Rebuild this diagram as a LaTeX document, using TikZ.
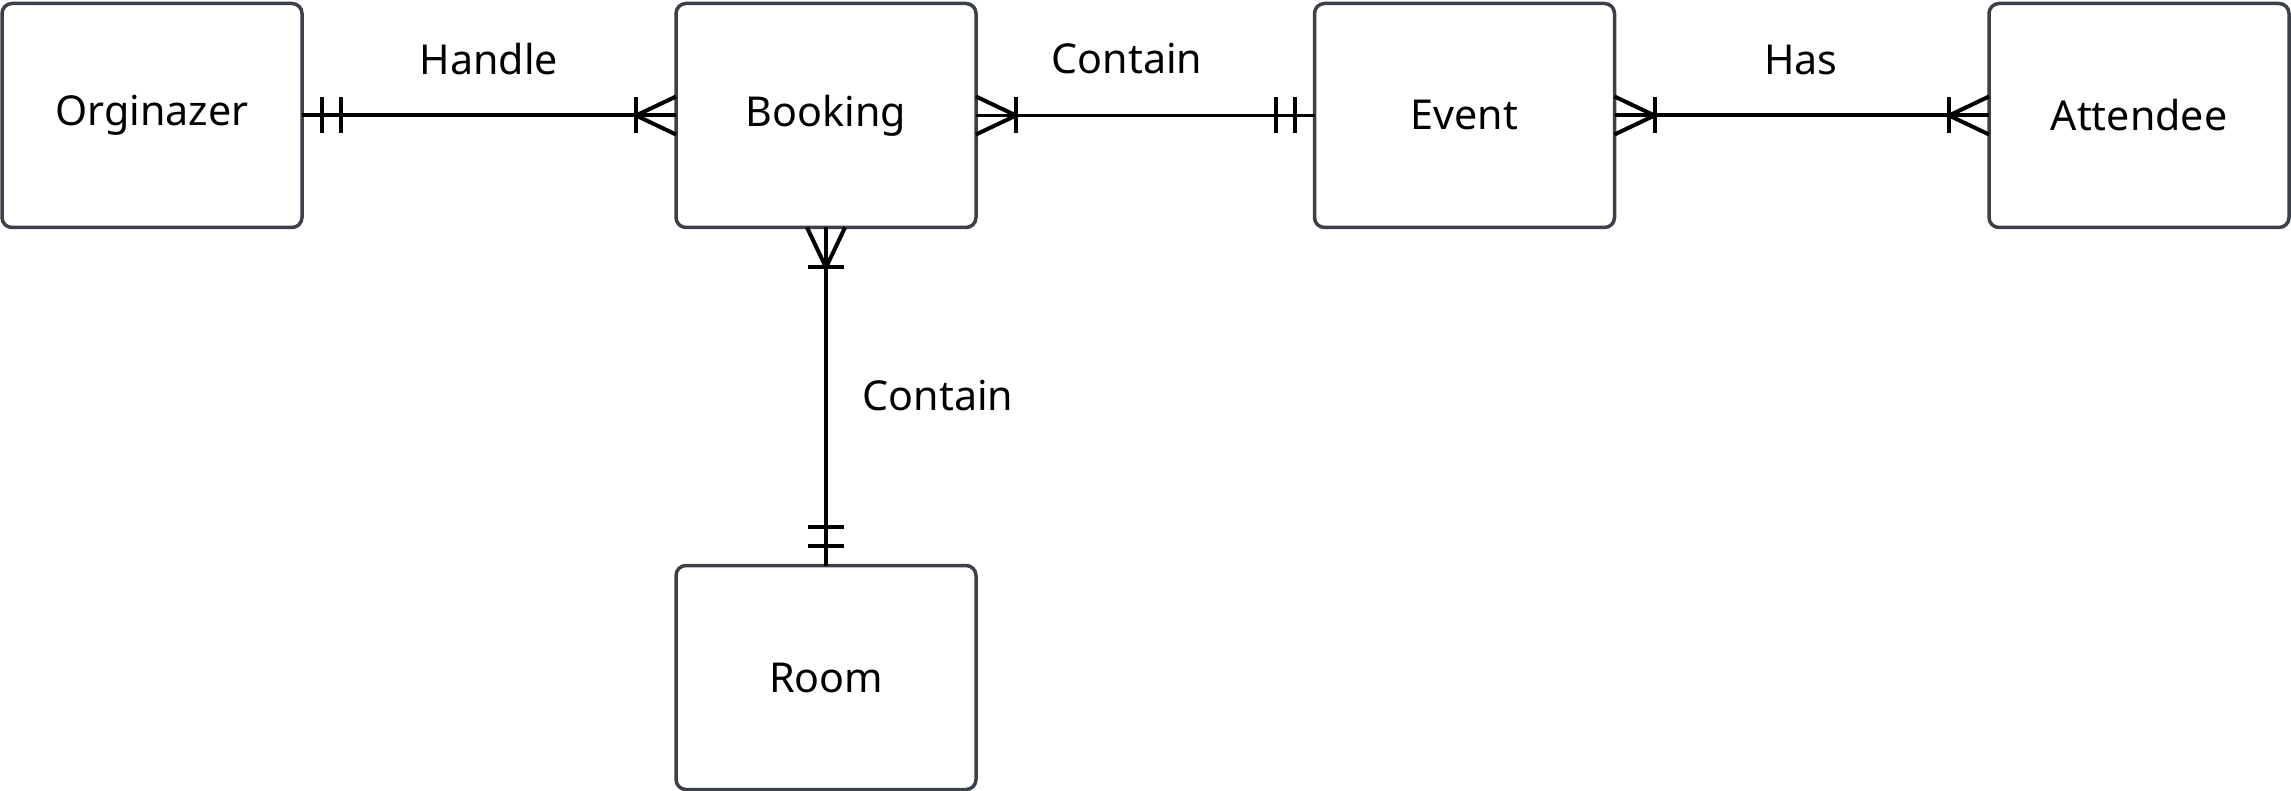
\documentclass[tikz,border=0pt]{standalone}
\usepackage{fontspec}
\setmainfont{Noto Sans}
\usetikzlibrary{calc}

\definecolor{boxgray}{RGB}{60,64,72}

\tikzset{
  entity/.style={draw=boxgray, line width=1.75pt, rounded corners=5pt, outer sep=0pt,
    minimum width=150pt, minimum height=112pt, fill=white, font=\fontsize{20.6}{24}\selectfont},
  rel/.style={line width=2pt, black},
  relthin/.style={line width=1.4pt, black},
  lbl/.style={font=\fontsize{20.6}{24}\selectfont},
  pics/onlyone/.style={code={
    \draw[rel] (20,-18) -- (20,18);
    \draw[rel] (39,-18) -- (39,18);
  }},
  pics/many/.style={code={
    \draw[rel] (0,19) -- (40,0) -- (0,-19);
    \draw[rel] (40,-18) -- (40,18);
  }},
}

\begin{document}
\begin{tikzpicture}[x=0.5pt, y=-0.5pt]
    \useasboundingbox (0,0) rectangle (2291,791);

    % Entities
    \node[entity] (org) at (152,115.5) {Orginazer};
    \node[entity] (book) at (826,115.5) {Booking};
    \node[entity] (event) at (1464.5,115.5) {Event};
    \node[entity] (att) at (2139,115.5) {Attendee};
    \node[entity] (room) at (826,677.5) {Room};

    % Relationships
    \draw[rel] (org.east) -- (book.west);
    \draw[relthin] (book.east) -- (event.west);
    \draw[rel] (event.east) -- (att.west);
    \draw[rel] (book.south) -- (room.north);

    % Cardinality marks
    \pic at (org.east) {onlyone};
    \pic[rotate=180] at (book.west) {many};
    \pic at (book.east) {many};
    \pic[rotate=180] at (event.west) {onlyone};
    \pic at (event.east) {many};
    \pic[rotate=180] at (att.west) {many};
    \pic[rotate=-90] at (book.south) {many};
    \pic[rotate=90] at (room.north) {onlyone};

    % Labels
    \node[lbl] (handle) at (489,59) {Handle};
    \node[lbl] (contain1) at (1127,59) {Contain};
    \node[lbl] (has) at (1801,60) {Has};
    \node[lbl] (contain2) at (938,396) {Contain};
\end{tikzpicture}
\end{document}
